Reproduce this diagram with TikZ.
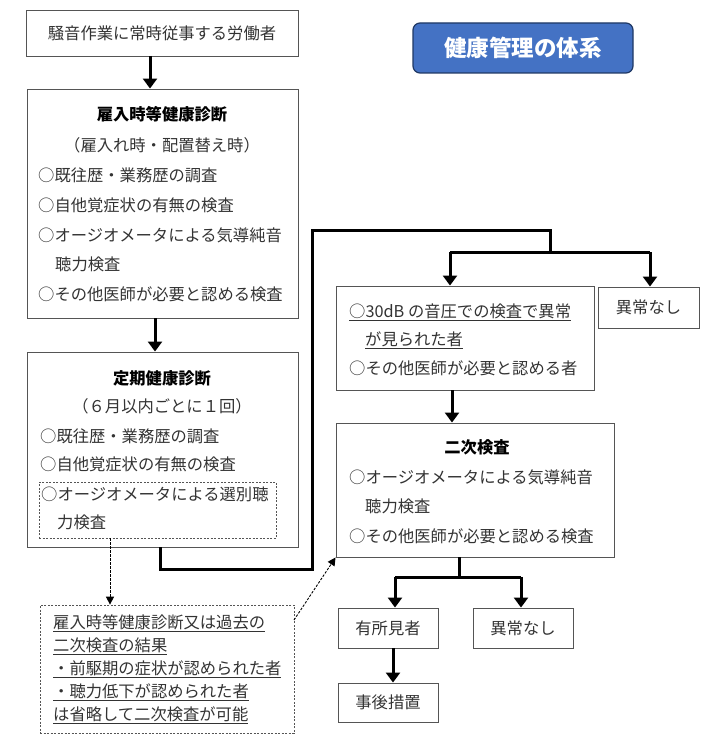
\documentclass[tikz,border=0pt]{standalone}
\usepackage{fontspec}
\setmainfont{Noto Sans CJK JP}
\usetikzlibrary{arrows.meta,calc}
\definecolor{titlefill}{HTML}{4472C4}
\definecolor{titledraw}{HTML}{1F3864}
\definecolor{boxline}{HTML}{555555}
\definecolor{txtcol}{HTML}{333333}
\begin{document}
\begin{tikzpicture}[x=1pt,y=-1pt,
  box/.style={draw=boxline, line width=0.9pt, inner sep=0pt},
  dbox/.style={draw=boxline, line width=0.7pt, dashed, dash pattern=on 2pt off 1.5pt, inner sep=0pt},
  txt/.style={anchor=west, inner sep=0pt, text=txtcol, font=\fontsize{16.3}{18}\selectfont},
  ctxt/.style={anchor=center, inner sep=0pt, text=txtcol, font=\fontsize{16.3}{18}\selectfont},
  btxt/.style={anchor=center, inner sep=0pt, text=black, font=\fontsize{16.3}{18}\selectfont\bfseries},
  thk/.style={line width=3pt, black},
  arr/.style={line width=3pt, black, -{Triangle[width=14pt,length=10pt]}},
  darr/.style={line width=0.9pt, black, dash pattern=on 2.5pt off 1.5pt, -{Triangle[width=8pt,length=8pt]}}
]
\useasboundingbox (0,0) rectangle (719,746);

% title
\node[draw=titledraw, line width=1.2pt, fill=titlefill, rounded corners=7pt,
  minimum width=220pt, minimum height=50pt, inner sep=0pt,
  text=white, font=\fontsize{22.5}{24}\selectfont\bfseries] (title) at (523,48) {健康管理の体系};

% box 1
\node[box, minimum width=272pt, minimum height=46pt] (b1) at (162,33) {};
\node[ctxt] (t1) at (162,33) {騒音作業に常時従事する労働者};

% box 2
\node[box, minimum width=271pt, minimum height=229pt] (b2) at (162.5,203.5) {};
\node[btxt] (t2a) at (162,114) {雇入時等健康診断};
\node[ctxt] (t2b) at (162,145) {（雇入れ時・配置替え時）};
\node[txt] (t2c) at (38,175) {○既往歴・業務歴の調査};
\node[txt] (t2d) at (38,205) {○自他覚症状の有無の検査};
\node[txt] (t2e) at (38,235) {○オージオメータによる気導純音};
\node[txt] (t2f) at (55,264) {聴力検査};
\node[txt] (t2g) at (38,294) {○その他医師が必要と認める検査};

% box 3
\node[box, minimum width=271pt, minimum height=195pt] (b3) at (162.5,449.5) {};
\node[btxt] (t3a) at (162,378) {定期健康診断};
\node[ctxt] (t3b) at (162,406) {（６月以内ごとに１回）};
\node[txt] (t3c) at (40,436) {○既往歴・業務歴の調査};
\node[txt] (t3d) at (40,464) {○自他覚症状の有無の検査};
\node[dbox, minimum width=237pt, minimum height=56pt] (b3i) at (157.5,510) {};
\node[txt] (t3e) at (41,494) {○オージオメータによる選別聴};
\node[txt] (t3f) at (57,522) {力検査};

% box 4
\node[box, minimum width=258pt, minimum height=104pt] (b4) at (465,338) {};
\node[txt] (t4a) at (349,312) {\underline{○30dB の音圧での検査で異常}};
\node[txt] (t4b) at (365,340) {\underline{が見られた者}};
\node[txt] (t4c) at (349,368) {○その他医師が必要と認める者};

% box 5
\node[box, minimum width=101pt, minimum height=41pt] (b5) at (648.5,307.5) {};
\node[ctxt] (t5) at (648.5,307.5) {異常なし};

% box 6
\node[box, minimum width=278pt, minimum height=134pt] (b6) at (475,490) {};
\node[btxt] (t6a) at (477,447) {二次検査};
\node[txt] (t6b) at (349,477) {○オージオメータによる気導純音};
\node[txt] (t6c) at (365,506) {聴力検査};
\node[txt] (t6d) at (349,536) {○その他医師が必要と認める検査};

% box 7, 8, 9
\node[box, minimum width=100pt, minimum height=40pt] (b7) at (388,628) {};
\node[ctxt] (t7) at (388,628) {有所見者};
\node[box, minimum width=100pt, minimum height=40pt] (b8) at (523,628) {};
\node[ctxt] (t8) at (523,628) {異常なし};
\node[box, minimum width=100pt, minimum height=39pt] (b9) at (388,702.5) {};
\node[ctxt] (t9) at (388,702.5) {事後措置};

% box 10 (dashed)
\node[dbox, minimum width=254pt, minimum height=128pt] (b10) at (167,669) {};
\node[txt] (t10a) at (53,623) {\underline{雇入時等健康診断又は過去の}};
\node[txt] (t10b) at (53,646) {\underline{二次検査の結果}};
\node[txt] (t10c) at (53,669) {\underline{・前駆期の症状が認められた者}};
\node[txt] (t10d) at (53,692) {\underline{・聴力低下が認められた者}};
\node[txt] (t10e) at (53,715) {\underline{は省略して二次検査が可能}};

% coordinates
\coordinate (a1) at (150,56);
\coordinate (a2) at (155,318);
\coordinate (s3) at (160,547);
\coordinate (c1) at (160,569);
\coordinate (c2) at (312,569);
\coordinate (c3) at (312,230);
\coordinate (c4) at (550,230);
\coordinate (j1) at (550,252);
\coordinate (j1l) at (450,252);
\coordinate (j1r) at (650,252);
\coordinate (a4) at (452,390);
\coordinate (s6) at (459,557);
\coordinate (j2) at (459,577);
\coordinate (j2l) at (395,577);
\coordinate (j2r) at (521,577);
\coordinate (a7) at (393,648);
\coordinate (d1) at (110,538);
\coordinate (d2) at (294,620);

% connectors
\draw[arr] (a1) -- (a1 |- b2.north);
\draw[arr] (a2) -- (a2 |- b3.north);
\draw[thk, line join=miter] (s3) -- (c1) -- (c2) -- (c3) -- (c4) -- (j1);
\draw[thk, line join=miter] (j1l) -- (j1r);
\draw[arr] (j1l) -- (j1l |- b4.north);
\draw[arr] (j1r) -- (j1r |- b5.north);
\draw[arr] (a4) -- (a4 |- b6.north);
\draw[thk, line join=miter] (s6) -- (j2);
\draw[thk] (j2l) -- (j2r);
\draw[arr] (j2l) -- (j2l |- b7.north);
\draw[arr] (j2r) -- (j2r |- b8.north);
\draw[arr] (a7) -- (a7 |- b9.north);
\draw[darr] (d1) -- (d1 |- b10.north);
\draw[darr] (d2) -- (b6.south west);
\end{tikzpicture}
\end{document}
